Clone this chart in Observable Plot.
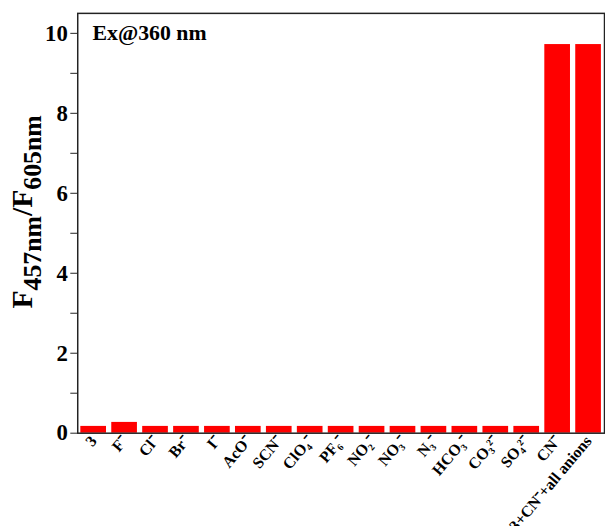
<!DOCTYPE html>
<html><head><meta charset="utf-8">
<script src="https://cdn.jsdelivr.net/npm/d3@7"></script>
<script src="https://cdn.jsdelivr.net/npm/@observablehq/plot@0.6"></script>
<style>
html,body{margin:0;padding:0;background:#fff;overflow:hidden;width:605px;height:531px}
svg{display:block}
</style></head>
<body><div id="chart"></div>
<script>
const categories = ["3","F⁻","Cl⁻","Br⁻","I⁻","AcO⁻","SCN⁻","ClO₄⁻","PF₆⁻","NO₂⁻","NO₃⁻","N₃⁻","HCO₃⁻","CO₃²⁻","SO₄²⁻","CN⁻","3+CN⁻+all anions"];
const values = [0.17,0.27,0.17,0.17,0.17,0.17,0.17,0.17,0.17,0.17,0.17,0.17,0.17,0.17,0.17,9.72,9.72];
const majorTicks = [0,2,4,6,8,10];
const minorTicks = [1,3,5,7,9];
const annotation = ["Ex@360 nm"];

const data = categories.map((c,i)=>({c, v: values[i]}));
const font = "'Liberation Serif', 'Times New Roman', serif";

const plot = Plot.plot({
  width: 611, height: 531,
  marginLeft: 78, marginRight: 1, marginTop: 13, marginBottom: 94,
  style: {fontFamily: font, fontWeight: "bold", background: "#fff"},
  x: {domain: categories, paddingInner: 0.17, paddingOuter: 0.1, round: false, label: null},
  y: {domain: [0, 10.5], label: null},
  marks: [
    Plot.barY(data, {x: "c", y: "v", fill: "#ff0000"}),
    Plot.frame({stroke: "#222", strokeWidth: 1.5}),
    Plot.axisX({tickSize: 0, tickRotate: -50, tickPadding: 5, fontSize: 16, fontWeight: "bold", label: null, fill: "#000"}),
    Plot.axisY({ticks: majorTicks, tickSize: 7, tickPadding: 3, fontSize: 23, fontWeight: "bold", label: null, tickFormat: d => d, stroke: "#222"}),
    Plot.axisY({ticks: minorTicks, tickSize: 7, tickFormat: () => "", label: null, stroke: "#222"}),
    Plot.text(annotation, {frameAnchor: "top-left", dx: 15, dy: 11, fontSize: 22, fontWeight: "bold", textAnchor: "start", fill: "#000"})
  ]
});
document.getElementById("chart").appendChild(plot);

// y-axis label with subscripts
const svg = d3.select(plot);
const lab = svg.append("text")
  .attr("transform", "translate(32,214) rotate(-90)")
  .attr("text-anchor", "middle")
  .style("font-family", font).style("font-weight", "bold").style("font-size", "30px").attr("fill", "#000");
lab.append("tspan").text("F");
lab.append("tspan").attr("dy", 9).style("font-size", "26px").text("457nm");
lab.append("tspan").attr("dy", -9).text("/F");
lab.append("tspan").attr("dy", 9).style("font-size", "26px").text("605nm");
</script></body></html>
